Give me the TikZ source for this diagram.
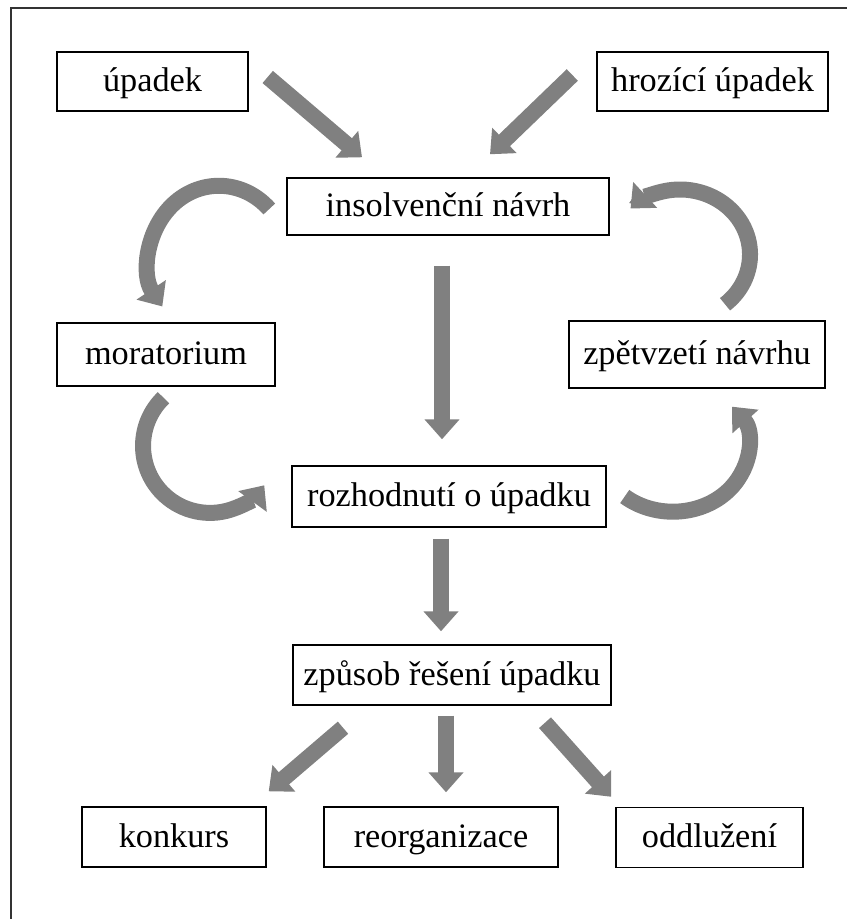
\documentclass[tikz,border=0pt]{standalone}
\usepackage{fontspec}
\setmainfont{Liberation Serif}
\usepackage{tikz}
\usetikzlibrary{arrows.meta,calc}
\definecolor{arrowgray}{HTML}{808080}

\begin{document}
\begin{tikzpicture}[x=0.35pt, y=-0.35pt,
    box/.style 2 args={draw, line width=0.5pt, inner sep=0pt,
        minimum width=#1*0.35pt, minimum height=#2*0.35pt,
        text height=9.2pt, text depth=2.2pt,
        font=\fontsize{12}{14}\selectfont},
    fat_arrow/.style={draw=arrowgray, line width=5.6pt,
        -{Triangle[width=11.9pt, length=7pt]}}]
    \useasboundingbox (0,0) rectangle (847,919);
    \draw[line width=0.6pt, black!80] (11,919) -- (11,8) -- (847,8);

    % Top row
    \node[box={191}{59}] (upadek) at (152.5,81.5) {úpadek};
    \node[box={231}{59}] (hrozici_upadek) at (712.5,81.5) {hrozící úpadek};
    \node[box={322}{57}] (insolvencni_navrh) at (448,206.5) {insolvenční návrh};

    % Middle
    \node[box={218}{63}] (moratorium) at (166,354.5) {moratorium};
    \node[box={256}{67}] (zpetvzeti) at (697,354.5) {zpětvzetí návrhu};
    \node[box={314}{61}] (rozhodnuti) at (449,496.5) {rozhodnutí o úpadku};
    \node[box={318}{60}] (zpusob_reseni) at (452,675) {způsob řešení úpadku};

    % Bottom row
    \node[box={184}{60}] (konkurs) at (174,837) {konkurs};
    \node[box={234}{60}] (reorganizace) at (441,837) {reorganizace};
    \node[box={187}{60}] (oddluzeni) at (709.5,837.5) {oddlužení};

    % Straight arrows
    \draw[fat_arrow] ($(upadek.east)+(19,-4.5)$) -- ($(insolvencni_navrh.north)+(-86,-20)$);
    \draw[fat_arrow] ($(hrozici_upadek.west)+(-24,-6.5)$) -- ($(insolvencni_navrh.north)+(42,-23)$);
    \draw[fat_arrow] ($(insolvencni_navrh.south)+(-6,30)$) -- ($(rozhodnuti.north)+(-7,-26)$);
    \draw[fat_arrow] ($(rozhodnuti.south)+(-8,11)$) -- ($(zpusob_reseni.north)+(-11,-13)$);
    \draw[fat_arrow] ($(zpusob_reseni.south)+(-109,22)$) -- ($(konkurs.north east)+(2,-15)$);
    \draw[fat_arrow] ($(zpusob_reseni.south)+(-6,10)$) -- ($(reorganizace.north)+(5,-14)$);
    \draw[fat_arrow] ($(zpusob_reseni.south)+(93,17)$) -- ($(oddluzeni.north west)+(-4,-10)$);

    % Curved arrows
    \draw[fat_arrow] ($(insolvencni_navrh.west)+(-17,2.5)$)
        arc[start angle=-44, end angle=-216, x radius=70, y radius=76];
    \draw[fat_arrow] ($(moratorium.south)+(-2.5,11)$)
        arc[start angle=-134, end angle=-324, radius=67];
    \draw[fat_arrow] ($(rozhodnuti.east)+(18,0)$)
        arc[start angle=-230, end angle=-398, x radius=75, y radius=65];
    \draw[fat_arrow] ($(zpetvzeti.north)+(28,-16)$)
        arc[start angle=50, end angle=-135, x radius=70, y radius=65];
\end{tikzpicture}
\end{document}
